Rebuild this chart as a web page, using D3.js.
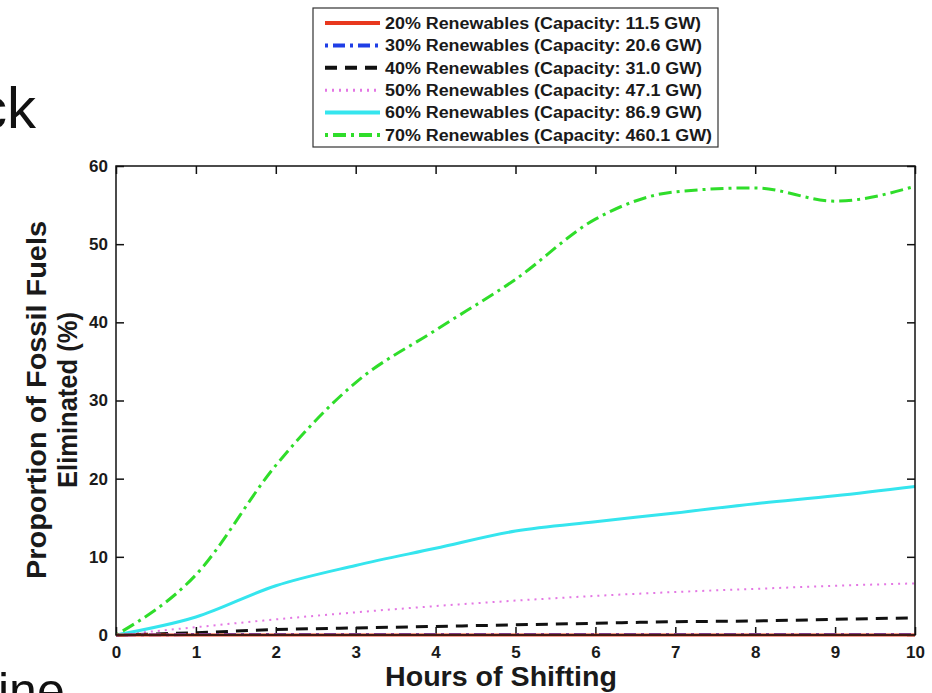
<!DOCTYPE html>
<html>
<head>
<meta charset="utf-8">
<script src="https://cdn.jsdelivr.net/npm/d3@7"></script>
<style>
  body { margin: 0; background: #fff; }
  svg { display: block; font-family: "Liberation Sans", Arial, sans-serif; }
</style>
</head>
<body>
<svg id="chart" width="932" height="693"></svg>
<script>
// data
const hours = [0, 1, 2, 3, 4, 5, 6, 7, 8, 9, 10];
const ren20 = [0, 0, 0, 0, 0, 0, 0, 0, 0, 0, 0];
const ren30 = [0, 0.05, 0.05, 0.05, 0.05, 0.05, 0.05, 0.05, 0.05, 0.05, 0.05];
const ren40 = [0, 0.3, 0.7, 0.9, 1.1, 1.3, 1.5, 1.7, 1.8, 2.0, 2.2];
const ren50 = [0, 1.0, 2.0, 2.9, 3.7, 4.4, 5.0, 5.5, 5.9, 6.3, 6.6];
const ren60 = [0, 2.3, 6.3, 8.9, 11.1, 13.3, 14.5, 15.6, 16.8, 17.8, 19.0];
const ren70 = [0, 7.7, 21.7, 32.3, 39.0, 45.5, 53.2, 56.7, 57.2, 55.5, 57.4];
const seriesNames = [
  '20% Renewables (Capacity: 11.5 GW)',
  '30% Renewables (Capacity: 20.6 GW)',
  '40% Renewables (Capacity: 31.0 GW)',
  '50% Renewables (Capacity: 47.1 GW)',
  '60% Renewables (Capacity: 86.9 GW)',
  '70% Renewables (Capacity: 460.1 GW)'
];
const xTicks = [0, 1, 2, 3, 4, 5, 6, 7, 8, 9, 10];
const yTicks = [0, 10, 20, 30, 40, 50, 60];

let colors = ['#e8381e', '#1f3ee6', '#111111', '#e477e4', '#35e5ee', '#2fdd2a'];
let dashes = [null, '3,5,12,5', '12,8', '2,5', null, '3,5,13,5'];
let widths = [3, 3, 3, 2, 3, 3];
let allData = [ren20, ren30, ren40, ren50, ren60, ren70];

const svg = d3.select('#chart');

// slide text fragments around the figure
svg.append('text')
  .attr('x', 36).attr('y', 128)
  .attr('text-anchor', 'end')
  .style('font-size', '58px')
  .style('fill', '#111')
  .text('ck');
svg.append('text')
  .attr('x', -2).attr('y', 708)
  .style('font-size', '50px')
  .style('fill', '#111')
  .text('ine');

let x = d3.scaleLinear().domain([0, 10]).range([116, 915]);
let y = d3.scaleLinear().domain([0, 60]).range([635, 166]);

// axes, MATLAB style ticks pointing inward on all four sides
let tickLen = 8;
svg.append('g')
  .attr('transform', 'translate(0,' + y(0) + ')')
  .call(d3.axisBottom(x).tickValues(xTicks).tickSizeInner(-tickLen).tickSizeOuter(0).tickPadding(11))
  .call(g => g.select('.domain').remove());
svg.append('g')
  .attr('transform', 'translate(' + x(0) + ',0)')
  .call(d3.axisLeft(y).tickValues(yTicks).tickSizeInner(-tickLen).tickSizeOuter(0).tickPadding(8))
  .call(g => g.select('.domain').remove());
svg.append('g')
  .attr('transform', 'translate(0,' + y(60) + ')')
  .call(d3.axisTop(x).tickValues(xTicks).tickSizeInner(-tickLen).tickSizeOuter(0).tickFormat(''))
  .call(g => g.select('.domain').remove());
svg.append('g')
  .attr('transform', 'translate(' + x(10) + ',0)')
  .call(d3.axisRight(y).tickValues(yTicks).tickSizeInner(-tickLen).tickSizeOuter(0).tickFormat(''))
  .call(g => g.select('.domain').remove());

svg.selectAll('.tick line').style('stroke', '#111').style('stroke-width', 1.5);
svg.selectAll('.tick text')
  .style('font-size', '17px')
  .style('font-weight', 'bold')
  .style('fill', '#1a1a1a');

// series
let line = d3.line()
  .x((d, i) => x(hours[i]))
  .y(d => y(d))
  .curve(d3.curveMonotoneX);

let order = [3, 2, 4, 5, 1, 0];
order.forEach(k => {
  svg.append('path')
    .attr('d', line(allData[k]))
    .style('fill', 'none')
    .style('stroke', colors[k])
    .style('stroke-width', widths[k])
    .style('stroke-dasharray', dashes[k]);
});

// plot frame
svg.append('rect')
  .attr('x', x(0)).attr('y', y(60))
  .attr('width', x(10) - x(0)).attr('height', y(0) - y(60))
  .style('fill', 'none')
  .style('stroke', '#111')
  .style('stroke-width', 1.5);

// axis titles
svg.append('text')
  .attr('x', 501).attr('y', 686)
  .attr('text-anchor', 'middle')
  .attr('textLength', 232)
  .attr('lengthAdjust', 'spacingAndGlyphs')
  .style('font-size', '27px')
  .style('font-weight', 'bold')
  .style('fill', '#1a1a1a')
  .text('Hours of Shifting');

let yTitle = svg.append('text')
  .attr('transform', 'translate(46,400) rotate(-90)')
  .attr('text-anchor', 'middle')
  .style('font-size', '27px')
  .style('font-weight', 'bold')
  .style('fill', '#1a1a1a');
yTitle.append('tspan').attr('x', 0).attr('dy', 0)
  .attr('textLength', 358).attr('lengthAdjust', 'spacingAndGlyphs')
  .text('Proportion of Fossil Fuels');
yTitle.append('tspan').attr('x', 0).attr('dy', 31)
  .attr('textLength', 176).attr('lengthAdjust', 'spacingAndGlyphs')
  .text('Eliminated (%)');

// legend
let legend = svg.append('g');
legend.append('rect')
  .attr('x', 313).attr('y', 8)
  .attr('width', 405).attr('height', 139)
  .style('fill', '#fff')
  .style('stroke', '#333')
  .style('stroke-width', 1.2);
let rowY = d3.scaleLinear().domain([0, 5]).range([23, 135]);
let labels = [];
seriesNames.forEach((name, i) => {
  legend.append('line')
    .attr('x1', 325).attr('x2', 380)
    .attr('y1', rowY(i)).attr('y2', rowY(i))
    .style('stroke', colors[i])
    .style('stroke-width', widths[i] + 1)
    .style('stroke-dasharray', dashes[i]);
  labels.push(legend.append('text')
    .attr('x', 385).attr('y', rowY(i))
    .attr('dy', '0.36em')
    .style('font-size', '16px')
    .style('font-weight', 'bold')
    .style('fill', '#1a1a1a')
    .text(name));
});
// the figure is a little stretched sideways: widen legend labels to fit
let longest = d3.max(labels, t => t.node().getComputedTextLength());
let stretch = 327 / longest;
labels.forEach(t => {
  t.attr('textLength', t.node().getComputedTextLength() * stretch)
    .attr('lengthAdjust', 'spacingAndGlyphs');
});
</script>
</body>
</html>
